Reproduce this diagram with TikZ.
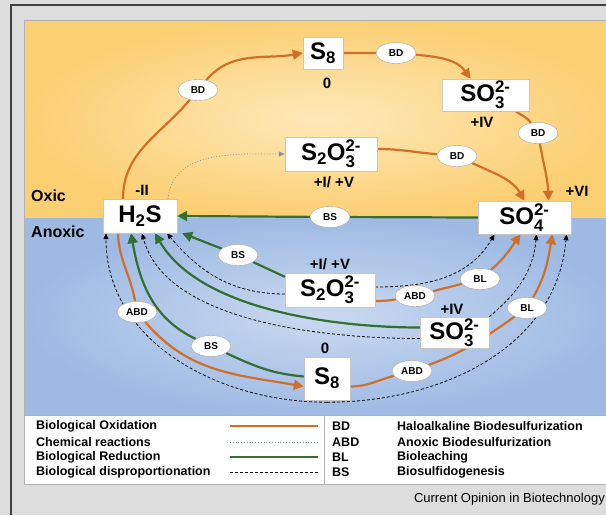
\documentclass[tikz,border=0pt]{standalone}
\usepackage{amsmath}
\usepackage{fontspec}
\setmainfont{Liberation Sans}
\usetikzlibrary{arrows.meta,shapes.geometric}
\definecolor{oxorange}{RGB}{208,112,40}
\definecolor{redgreen}{RGB}{52,110,48}
\definecolor{chemgray}{RGB}{135,148,165}
\definecolor{panelgray}{RGB}{221,221,221}
\newcommand{\spec}[3]{#1$_{\text{#2}}^{\text{#3}}$}
\pgfdeclarelayer{back}
\pgfdeclarelayer{links}
\pgfsetlayers{back,links,main}
\tikzset{
    species/.style={rectangle,draw=gray!45,fill=white,inner sep=0pt,minimum height=33pt,font=\fontsize{24}{24}\selectfont\bfseries},
    oxstate/.style={font=\fontsize{15}{15}\selectfont\bfseries,inner sep=0pt},
    zone/.style={font=\fontsize{16}{16}\selectfont\bfseries,anchor=west,inner sep=0pt},
    tag/.style={ellipse,draw=gray!70,fill=white,inner sep=0pt,minimum width=40pt,minimum height=21pt,font=\fontsize{10}{10}\selectfont\bfseries},
    bioox/.style={->,> = {Triangle[length=10pt,width=10pt]},draw=oxorange,line width=2.2pt},
    biored/.style={->,> = {Triangle[length=10pt,width=10pt]},draw=redgreen,line width=2.2pt},
    chem/.style={->,> = {Triangle[length=6pt,width=5pt]},draw=chemgray,line width=0.8pt,dotted},
    disprop/.style={->,> = {Triangle[length=6pt,width=5pt]},draw=black,line width=0.8pt,dash pattern=on 3pt off 2pt},
    legtext/.style={font=\fontsize{12.5}{12.5}\selectfont\bfseries,anchor=west,inner sep=0pt},
}

\begin{document}
\begin{tikzpicture}[x=1pt,y=1pt]
    \useasboundingbox (0,0) rectangle (606,-515);
    \begin{pgfonlayer}{back}
    \fill[panelgray] (0,0) rectangle (606,-515);
    \draw[black!75,line width=1.2pt] (11,-515) -- (11,-5) -- (620,-5);
    \shade[inner color={rgb,255:red,254;green,233;blue,185},outer color={rgb,255:red,252;green,207;blue,115}] (24,-20) rectangle (620,-218);
    \shade[inner color={rgb,255:red,202;green,217;blue,241},outer color={rgb,255:red,158;green,186;blue,227}] (24,-218) rectangle (620,-415);
    \draw[gray!60,line width=0.6pt] (24,-20) rectangle (620,-415);
    \draw[gray!60,fill=white,line width=0.6pt] (24,-415) rectangle (620,-484);
    \draw[gray!60,line width=0.6pt] (324,-415) -- (324,-484);
    \end{pgfonlayer}

    \node[zone] (oxic) at (31,-196) {Oxic};
    \node[zone] (anoxic) at (31,-232) {Anoxic};

    \node[species,minimum width=40pt,minimum height=32pt] (s8top) at (323,-53) {S$_{\text{8}}$};
    \node[species,minimum width=87pt,minimum height=32pt] (so3top) at (485.5,-95) {\spec{SO}{3}{2-}};
    \node[species,minimum width=92pt,minimum height=34pt] (s2o3top) at (331,-154) {S$_{\text{2}}$\spec{O}{3}{2-}};
    \node[species,minimum width=74pt,minimum height=34pt] (h2s) at (140,-216) {H$_{\text{2}}$S};
    \node[species,minimum width=93pt,minimum height=33pt] (so4) at (524.5,-217.5) {\spec{SO}{4}{2-}};
    \node[species,minimum width=90pt,minimum height=34pt] (s2o3bot) at (330,-290) {S$_{\text{2}}$\spec{O}{3}{2-}};
    \node[species,minimum width=69pt,minimum height=31pt] (so3bot) at (454.5,-332.5) {\spec{SO}{3}{2-}};
    \node[species,minimum width=46pt,minimum height=43pt] (s8bot) at (327,-378.5) {S$_{\text{8}}$};

    \node[oxstate] (v0top) at (327,-83) {0};
    \node[oxstate] (v4top) at (482,-122) {+IV};
    \node[oxstate] (v15top) at (334,-182) {+I/ +V};
    \node[oxstate] (vm2) at (142,-190) {-II};
    \node[oxstate] (v6) at (577,-191) {+VI};
    \node[oxstate] (v15bot) at (330,-264) {+I/ +V};
    \node[oxstate] (v4bot) at (452,-309) {+IV};
    \node[oxstate] (v0bot) at (325,-348) {0};

    \node[tag] (bd1) at (198,-90) {BD};
    \node[tag] (bd2) at (396,-53) {BD};
    \node[tag] (bd3) at (538,-133) {BD};
    \node[tag] (bd4) at (457,-156) {BD};
    \node[tag] (bs1) at (330,-217) {BS};
    \node[tag] (bs2) at (238,-255) {BS};
    \node[tag] (abd1) at (137,-312) {ABD};
    \node[tag] (bs3) at (211,-346) {BS};
    \node[tag] (abd2) at (415,-296) {ABD};
    \node[tag] (bl1) at (480,-279) {BL};
    \node[tag] (abd3) at (412,-371) {ABD};
    \node[tag] (bl2) at (527,-308) {BL};

    \begin{pgfonlayer}{links}
    % oxic zone
    \draw[bioox] ([xshift=-17pt]h2s.north) to[out=90,in=-130] (bd1) to[out=50,in=190] (s8top.west);
    \draw[bioox] (s8top.east) -- (bd2) to[out=-5,in=125] ([xshift=-15pt]so3top.north);
    \draw[bioox] ([xshift=30pt]so3top.south) to[out=-35,in=125] (bd3) to[out=-80,in=92] ([xshift=24pt]so4.north);
    \draw[bioox] ([yshift=5pt]s2o3top.east) to[out=0,in=175] (bd4) to[out=-25,in=120] (so4.north);
    \draw[chem] ([xshift=28pt]h2s.north) to[out=85,in=180] (s2o3top.west);
    \draw[biored] (so4.west) -- (bs1) -- (h2s.east);
    % anoxic zone, towards H2S
    \draw[disprop] ([yshift=-2pt]s8bot.south) to[out=180,in=-90] ([xshift=-34pt]h2s.south);
    \draw[bioox] ([xshift=-22pt]h2s.south) to[out=-88,in=100] (abd1) to[out=-50,in=170] ([yshift=-8pt]s8bot.west);
    \draw[biored] ([yshift=2pt]s8bot.west) to[out=175,in=-25] (bs3) to[out=155,in=-80] ([xshift=-9pt]h2s.south);
    \draw[disprop] ([yshift=-6pt]so3bot.west) to[out=180,in=-75,looseness=0.8] ([xshift=2pt]h2s.south);
    \draw[biored] ([yshift=5pt]so3bot.west) to[out=180,in=-60,looseness=0.8] ([xshift=15pt]h2s.south);
    \draw[disprop] ([yshift=-4pt]s2o3bot.west) to[out=180,in=-50] ([xshift=27pt]h2s.south);
    \draw[biored] ([yshift=-4pt]s2o3bot.north west) -- (bs2) -- ([xshift=5pt]h2s.south east);
    % anoxic zone, towards SO4
    \draw[disprop] ([yshift=3pt]s2o3bot.east) to[out=0,in=-120] ([xshift=-30pt]so4.south);
    \draw[bioox] ([yshift=-11pt]s2o3bot.east) to[out=0,in=190] (abd2) to[out=15,in=195] (bl1) to[out=40,in=-125] ([xshift=-4pt]so4.south);
    \draw[disprop] (so3bot.north east) to[out=40,in=-95] ([xshift=12pt]so4.south);
    \draw[bioox] ([yshift=-8pt]s8bot.east) to[out=0,in=195] (abd3) to[out=20,in=215] (bl2) to[out=60,in=-100] ([xshift=28pt]so4.south);
    \draw[disprop] ([yshift=-2pt]s8bot.south) to[out=0,in=-95] ([xshift=42pt]so4.south);
    \end{pgfonlayer}

    % legend
    \node[legtext] (lox) at (36,-426) {Biological Oxidation};
    \node[legtext] (lchem) at (36,-442) {Chemical reactions};
    \node[legtext] (lred) at (36,-457) {Biological Reduction};
    \node[legtext] (ldis) at (36,-472) {Biological disproportionation};
    \draw[bioox,-] (230,-426) -- (318,-426);
    \draw[chem,-] (230,-442) -- (318,-442);
    \draw[biored,-] (230,-457) -- (318,-457);
    \draw[disprop,-] (230,-472) -- (318,-472);
    \node[legtext] (abbd) at (332,-426) {BD};
    \node[legtext] (ababd) at (332,-442) {ABD};
    \node[legtext] (abbl) at (332,-457) {BL};
    \node[legtext] (abbs) at (332,-472) {BS};
    \node[legtext] (dbd) at (397,-426) {Haloalkaline Biodesulfurization};
    \node[legtext] (dabd) at (397,-442) {Anoxic Biodesulfurization};
    \node[legtext] (dbl) at (397,-457) {Bioleaching};
    \node[legtext] (dbs) at (397,-472) {Biosulfidogenesis};

    \node[anchor=east,inner sep=0pt,font=\fontsize{13}{13}\selectfont] (source) at (605,-499) {Current Opinion in Biotechnology};
\end{tikzpicture}
\end{document}
